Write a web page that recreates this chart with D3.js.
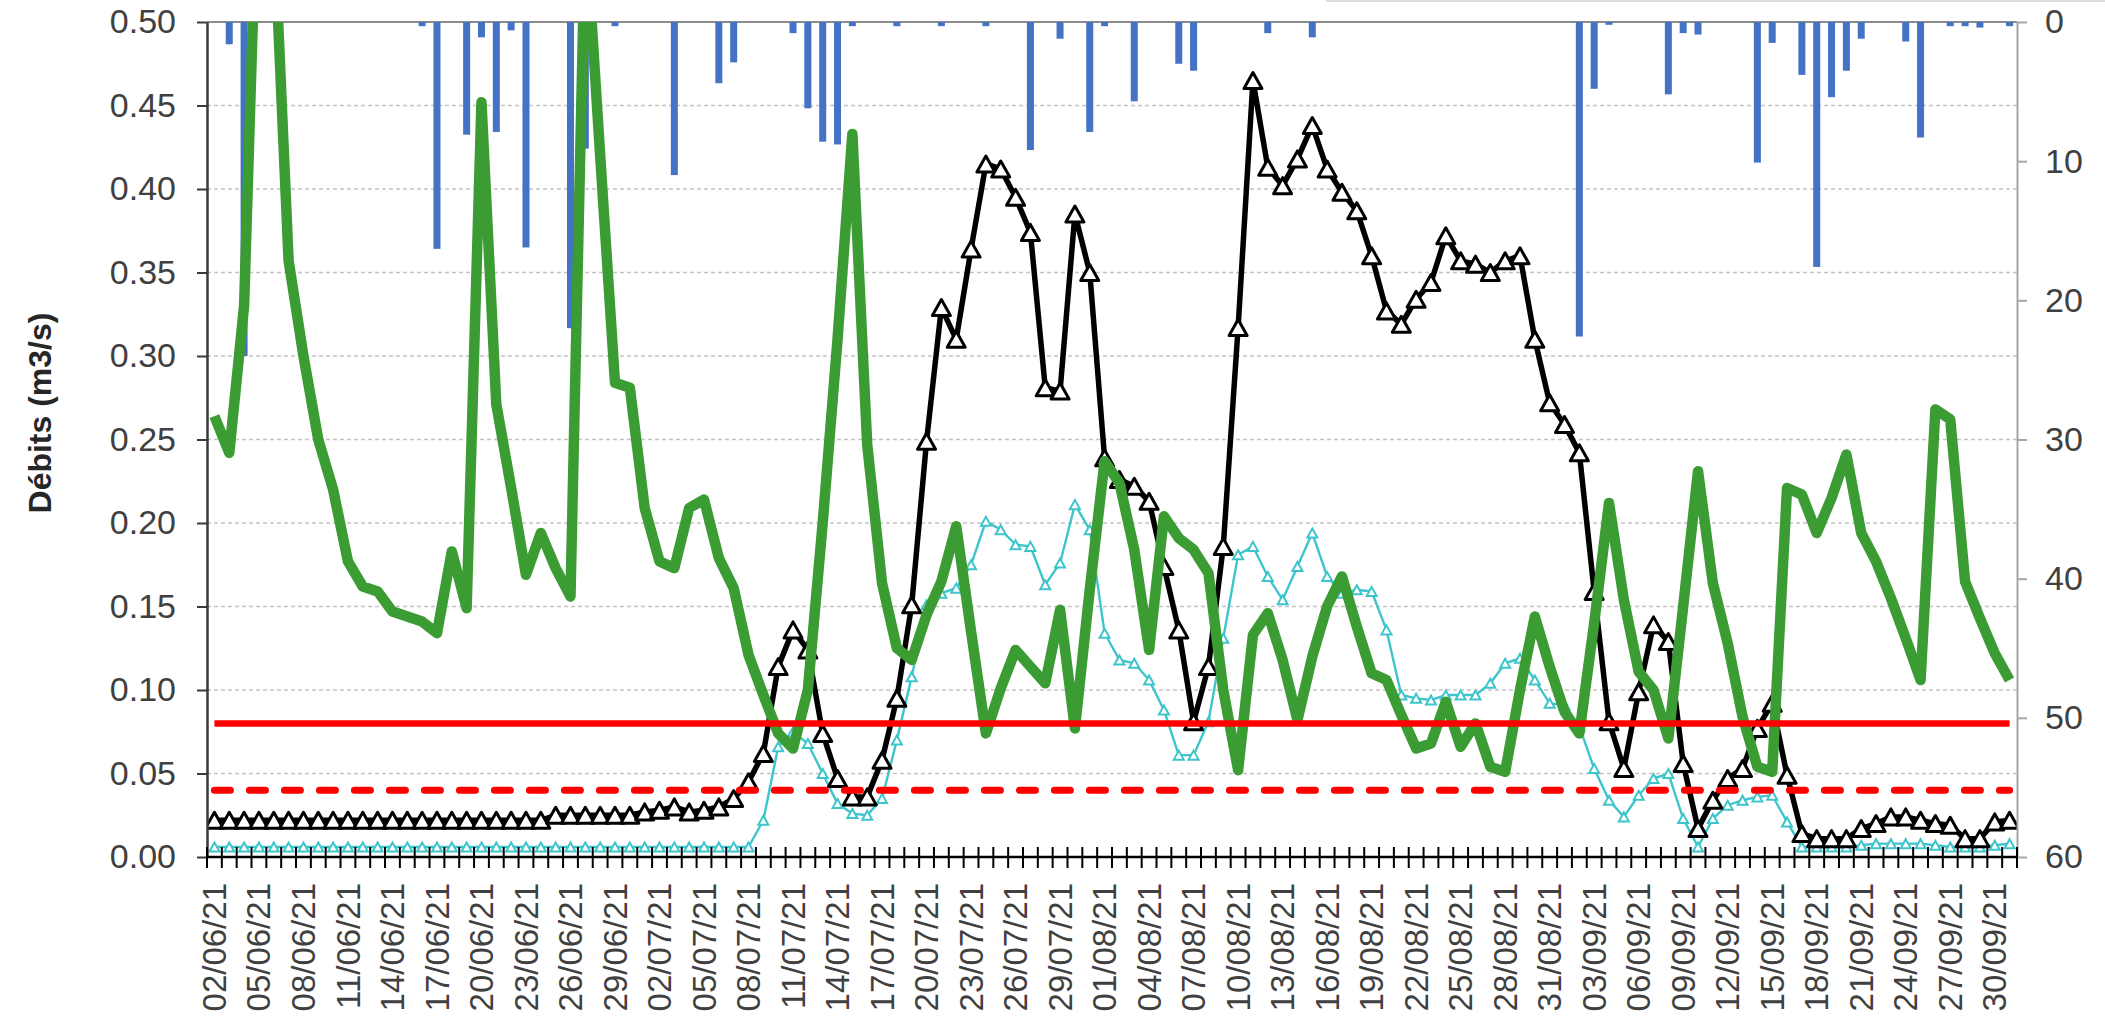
<!DOCTYPE html>
<meta charset="utf-8">
<head>
<script src="https://cdnjs.cloudflare.com/ajax/libs/d3/7.8.5/d3.min.js"></script>
<style>
	body { margin: 0; background: #fff; }
	svg { display: block; }
	text { font-family: "Liberation Sans", Arial, sans-serif; }
</style>
</head>
<body>
<div id="svg-container"></div>
<script>

const width = 2105,
	height = 1020,
	plot = {left: 207, right: 2017, top: 22, bottom: 857}

////////////////////////////////////
// DATA
////////////////////////////////////

// one category per day, 02/06/21 -> 01/10/21
const categories = d3.utcDay.range(new Date(Date.UTC(2021, 5, 2)), new Date(Date.UTC(2021, 9, 2)))
	.map(d3.utcFormat('%d/%m/%y'))

const yTicks = [0, 0.05, 0.10, 0.15, 0.20, 0.25, 0.30, 0.35, 0.40, 0.45, 0.50]
const rainTicks = [0, 10, 20, 30, 40, 50, 60]

// pluie (mm), axe de droite inversé
const rain = [
	0, 1.6, 24, 0, 0, 0, 0, 0, 0, 0,
	0, 0, 0, 0, 0.3, 16.3, 0, 8.1, 1.1, 7.9,
	0.6, 16.2, 0, 0, 22, 9.1, 0, 0.3, 0, 0,
	0, 11, 0, 0, 4.4, 2.9, 0, 0, 0, 0.8,
	6.2, 8.6, 8.8, 0.3, 0, 0, 0.3, 0, 0, 0.3,
	0, 0, 0.3, 0, 0, 9.2, 0, 1.2, 0, 7.9,
	0.3, 0, 5.7, 0, 0, 3.0, 3.5, 0, 0, 0,
	0, 0.8, 0, 0, 1.1, 0, 0, 0, 0, 0,
	0, 0, 0, 0, 0, 0, 0, 0, 0, 0,
	0, 0, 22.6, 4.8, 0.2, 0, 0, 0, 5.2, 0.8,
	0.9, 0, 0, 0, 10.1, 1.5, 0, 3.8, 17.6, 5.4,
	3.5, 1.2, 0, 0, 1.4, 8.3, 0, 0.3, 0.3, 0.4,
	0, 0.3
]

// débit (noir, gros triangles)
const debitBlack = [
	0.022, 0.022, 0.022, 0.022, 0.022, 0.022, 0.022, 0.022, 0.022, 0.022,
	0.022, 0.022, 0.022, 0.022, 0.022, 0.022, 0.022, 0.022, 0.022, 0.022,
	0.022, 0.022, 0.022, 0.025, 0.025, 0.025, 0.025, 0.025, 0.025, 0.027,
	0.028, 0.030, 0.027, 0.028, 0.030, 0.035, 0.045, 0.062, 0.114, 0.136,
	0.124, 0.074, 0.047, 0.036, 0.036, 0.058, 0.095, 0.151, 0.249, 0.329,
	0.310, 0.364, 0.415, 0.412, 0.395, 0.374, 0.281, 0.279, 0.385, 0.350,
	0.239, 0.226, 0.222, 0.213, 0.174, 0.136, 0.081, 0.114, 0.186, 0.317,
	0.465, 0.413, 0.402, 0.418, 0.438, 0.412, 0.398, 0.387, 0.360, 0.327,
	0.319, 0.334, 0.344, 0.372, 0.357, 0.355, 0.350, 0.357, 0.360, 0.310,
	0.272, 0.259, 0.242, 0.159, 0.081, 0.053, 0.099, 0.139, 0.129, 0.056,
	0.017, 0.034, 0.047, 0.053, 0.077, 0.092, 0.049, 0.014, 0.011, 0.011,
	0.011, 0.017, 0.020, 0.024, 0.024, 0.022, 0.020, 0.019, 0.011, 0.011,
	0.021, 0.022
]

// débit (cyan, petits triangles)
const debitCyan = [
	0.006, 0.006, 0.006, 0.006, 0.006, 0.006, 0.006, 0.006, 0.006, 0.006,
	0.006, 0.006, 0.006, 0.006, 0.006, 0.006, 0.006, 0.006, 0.006, 0.006,
	0.006, 0.006, 0.006, 0.006, 0.006, 0.006, 0.006, 0.006, 0.006, 0.006,
	0.006, 0.006, 0.006, 0.006, 0.006, 0.006, 0.006, 0.022, 0.066, 0.075,
	0.068, 0.050, 0.032, 0.026, 0.025, 0.035, 0.070, 0.108, 0.151, 0.158,
	0.161, 0.175, 0.201, 0.196, 0.187, 0.186, 0.163, 0.176, 0.211, 0.196,
	0.134, 0.118, 0.116, 0.106, 0.088, 0.061, 0.061, 0.081, 0.131, 0.181,
	0.186, 0.168, 0.154, 0.174, 0.194, 0.168, 0.158, 0.160, 0.159, 0.136,
	0.097, 0.095, 0.094, 0.097, 0.097, 0.097, 0.104, 0.116, 0.119, 0.106,
	0.092, 0.091, 0.078, 0.053, 0.034, 0.024, 0.037, 0.047, 0.050, 0.023,
	0.006, 0.023, 0.031, 0.034, 0.036, 0.037, 0.021, 0.006, 0.006, 0.006,
	0.006, 0.007, 0.008, 0.008, 0.008, 0.008, 0.007, 0.006, 0.006, 0.006,
	0.007, 0.008
]

// débit (vert, trait épais)
const debitGreen = [
	0.264, 0.242, 0.33, 0.62, 0.56, 0.357, 0.30, 0.25, 0.22, 0.177,
	0.162, 0.159, 0.147, 0.144, 0.141, 0.134, 0.183, 0.149, 0.452, 0.271,
	0.221, 0.169, 0.194, 0.173, 0.156, 0.56, 0.42, 0.284, 0.281, 0.209,
	0.177, 0.173, 0.209, 0.214, 0.179, 0.161, 0.121, 0.097, 0.074, 0.065,
	0.10, 0.20, 0.31, 0.433, 0.247, 0.164, 0.125, 0.118, 0.145, 0.165,
	0.198, 0.135, 0.074, 0.101, 0.124, 0.114, 0.104, 0.148, 0.077, 0.16,
	0.237, 0.224, 0.184, 0.124, 0.204, 0.191, 0.184, 0.17, 0.10, 0.052,
	0.133, 0.146, 0.118, 0.082, 0.12, 0.15, 0.168, 0.138, 0.110, 0.106,
	0.085, 0.065, 0.068, 0.093, 0.066, 0.08, 0.054, 0.051, 0.10, 0.144,
	0.114, 0.087, 0.074, 0.14, 0.212, 0.154, 0.111, 0.10, 0.071, 0.15,
	0.231, 0.164, 0.128, 0.084, 0.054, 0.051, 0.221, 0.217, 0.194, 0.215,
	0.241, 0.194, 0.177, 0.155, 0.131, 0.106, 0.268, 0.262, 0.165, 0.143,
	0.122, 0.106
]

// seuils
const seuilHaut = 0.08
const seuilBas = 0.04

////////////////////////////////////
// SVG + SCALES
////////////////////////////////////

const svg = d3.select('#svg-container').append('svg')
	.attr('width', width)
	.attr('height', height)

const x = d3.scaleBand()
	.domain(categories)
	.range([plot.left, plot.right])
	.padding(0)

const cx = c => x(c) + x.bandwidth() / 2

const y = d3.scaleLinear()
	.domain([0, 0.5])
	.range([plot.bottom, plot.top])

const yRain = d3.scaleLinear()
	.domain([0, 60])
	.range([plot.top, plot.bottom])

svg.append('clipPath')
	.attr('id', 'plotClip')
  .append('rect')
	.attr('x', plot.left)
	.attr('y', plot.top)
	.attr('width', plot.right - plot.left)
	.attr('height', plot.bottom - plot.top + 20)

// bit of the legend box cut off at the top right
svg.append('line')
	.attr('x1', 1326).attr('x2', width)
	.attr('y1', 1).attr('y2', 1)
	.attr('stroke', '#dcdcdc')
	.attr('stroke-width', 2)

////////////////////////////////////
// GRID
////////////////////////////////////

svg.append('g')
	.selectAll('line')
	.data(yTicks.filter(t => t > 0 && t < 0.5))
	.enter().append('line')
	.attr('x1', plot.left)
	.attr('x2', plot.right)
	.attr('y1', d => y(d))
	.attr('y2', d => y(d))
	.attr('stroke', '#c4c4c4')
	.attr('stroke-width', 1.5)
	.attr('stroke-dasharray', '4,3')

svg.append('line')
	.attr('x1', plot.left)
	.attr('x2', plot.right)
	.attr('y1', y(0.5))
	.attr('y2', y(0.5))
	.attr('stroke', '#8c8c8c')
	.attr('stroke-width', 2)

////////////////////////////////////
// BARS (pluie)
////////////////////////////////////

svg.append('g')
	.selectAll('rect')
	.data(categories.map((c, i) => ({c: c, v: rain[i]})).filter(d => d.v > 0))
	.enter().append('rect')
	.attr('x', d => cx(d.c) - 3.5)
	.attr('y', yRain(0))
	.attr('width', 7)
	.attr('height', d => yRain(d.v) - yRain(0))
	.attr('fill', '#4472c4')

////////////////////////////////////
// LINES
////////////////////////////////////

const line = d3.line()
	.x((d, i) => cx(categories[i]))
	.y(d => y(d))

const triangle = (w, h) => `M0,${-h / 2}L${w / 2},${h / 2}L${-w / 2},${h / 2}Z`

const lines = svg.append('g').attr('clip-path', 'url(#plotClip)')

// cyan
lines.append('path')
	.datum(debitCyan)
	.attr('d', line)
	.attr('fill', 'none')
	.attr('stroke', '#3ec5cc')
	.attr('stroke-width', 2.4)

lines.append('g')
	.selectAll('path')
	.data(debitCyan)
	.enter().append('path')
	.attr('transform', (d, i) => `translate(${cx(categories[i])},${y(d)})`)
	.attr('d', triangle(10, 9))
	.attr('fill', '#ffffff')
	.attr('stroke', '#3ec5cc')
	.attr('stroke-width', 2)

// noir
lines.append('path')
	.datum(debitBlack)
	.attr('d', line)
	.attr('fill', 'none')
	.attr('stroke', '#000')
	.attr('stroke-width', 5.5)
	.attr('stroke-linejoin', 'round')

lines.append('g')
	.selectAll('path')
	.data(debitBlack)
	.enter().append('path')
	.attr('transform', (d, i) => `translate(${cx(categories[i])},${y(d)})`)
	.attr('d', triangle(18, 16))
	.attr('fill', '#ffffff')
	.attr('stroke', '#000')
	.attr('stroke-width', 3)
	.attr('stroke-linejoin', 'round')

// vert
lines.append('path')
	.datum(debitGreen)
	.attr('d', line)
	.attr('fill', 'none')
	.attr('stroke', '#3c9c34')
	.attr('stroke-width', 10.5)
	.attr('stroke-linejoin', 'round')

// seuils rouges
lines.append('path')
	.datum(categories.map(() => seuilHaut))
	.attr('d', line)
	.attr('fill', 'none')
	.attr('stroke', '#ff0000')
	.attr('stroke-width', 6.5)

lines.append('path')
	.datum(categories.map(() => seuilBas))
	.attr('d', line)
	.attr('fill', 'none')
	.attr('stroke', '#ff0000')
	.attr('stroke-width', 7)
	.attr('stroke-linecap', 'round')
	.attr('stroke-dasharray', '16,19')

////////////////////////////////////
// AXES
////////////////////////////////////

const yAxis = svg.append('g')
	.attr('transform', `translate(${plot.left},0)`)
	.call(d3.axisLeft(y)
		.tickValues(yTicks)
		.tickFormat(d3.format('.2f'))
		.tickSize(10)
		.tickSizeOuter(0)
		.tickPadding(21))

yAxis.select('.domain').attr('stroke', '#3a3a3a').attr('stroke-width', 2.5)
yAxis.selectAll('.tick line').attr('stroke', '#3a3a3a').attr('stroke-width', 2)
yAxis.selectAll('.tick text')
	.attr('font-size', 34)
	.attr('fill', '#404040')
	.attr('font-family', '"Liberation Sans", Arial, sans-serif')

const rainAxis = svg.append('g')
	.attr('transform', `translate(${plot.right},0)`)
	.call(d3.axisRight(yRain)
		.tickValues(rainTicks)
		.tickSize(10)
		.tickSizeOuter(0)
		.tickPadding(18))

rainAxis.select('.domain').attr('stroke', '#a6a6a6').attr('stroke-width', 2)
rainAxis.selectAll('.tick line').attr('stroke', '#a6a6a6').attr('stroke-width', 2)
rainAxis.selectAll('.tick text')
	.attr('font-size', 34)
	.attr('fill', '#404040')
	.attr('font-family', '"Liberation Sans", Arial, sans-serif')

// x axis: line + cross ticks on every category boundary
const xAxisG = svg.append('g')
	.attr('transform', `translate(0,${plot.bottom})`)

xAxisG.append('line')
	.attr('x1', plot.left)
	.attr('x2', plot.right)
	.attr('stroke', '#000')
	.attr('stroke-width', 2.5)

xAxisG.append('g')
	.selectAll('line')
	.data(categories.map(c => x(c)).concat([plot.right]))
	.enter().append('line')
	.attr('x1', d => d)
	.attr('x2', d => d)
	.attr('y1', -10)
	.attr('y2', 11)
	.attr('stroke', '#000')
	.attr('stroke-width', 2)

const xLabels = xAxisG.append('g')
	.call(d3.axisBottom(x)
		.tickValues(categories.filter((c, i) => i % 3 === 0))
		.tickSize(0)
		.tickSizeOuter(0))

xLabels.select('.domain').remove()
xLabels.selectAll('.tick text')
	.attr('transform', 'rotate(-90)')
	.attr('x', -26)
	.attr('y', 0)
	.attr('dy', '0.35em')
	.style('text-anchor', 'end')
	.attr('font-size', 33)
	.attr('fill', '#404040')
	.attr('font-family', '"Liberation Sans", Arial, sans-serif')

svg.append('text')
	.attr('transform', 'translate(40,413) rotate(-90)')
	.attr('text-anchor', 'middle')
	.attr('dy', '0.35em')
	.attr('font-size', 32)
	.attr('font-weight', 'bold')
	.attr('fill', '#262626')
	.text('Débits (m3/s)')

</script>
</body>
